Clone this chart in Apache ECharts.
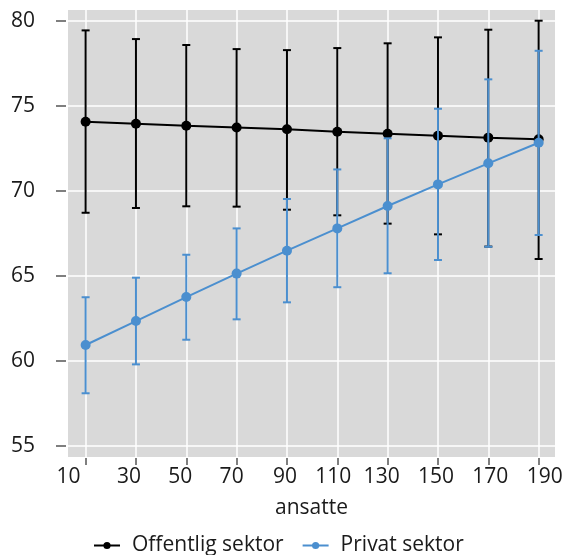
<!DOCTYPE html>
<html>
<head>
<meta charset="utf-8">
<script src="https://cdn.jsdelivr.net/npm/echarts@6/dist/echarts.min.js"></script>
<style>
  html, body { margin: 0; padding: 0; background: #fff; }
  #chart { width: 567px; height: 555px; }
</style>
</head>
<body>
<div id="chart"></div>
<script>
// Number of employees (x) and mean with interval per sector
const ansatte = [10, 30, 50, 70, 90, 110, 130, 150, 170, 190];

const offentligMean  = [74.08, 73.96, 73.84, 73.74, 73.63, 73.49, 73.37, 73.25, 73.14, 73.04];
const offentligLower = [68.72, 69.00, 69.10, 69.08, 68.90, 68.57, 68.08, 67.45, 66.73, 66.00];
const offentligUpper = [79.45, 78.94, 78.59, 78.35, 78.29, 78.41, 78.69, 79.04, 79.49, 80.02];

const privatMean  = [60.94, 62.35, 63.76, 65.14, 66.49, 67.80, 69.12, 70.39, 71.63, 72.84];
const privatLower = [58.10, 59.80, 61.25, 62.45, 63.45, 64.34, 65.16, 65.94, 66.72, 67.41];
const privatUpper = [63.75, 64.90, 66.25, 67.80, 69.53, 71.27, 73.10, 74.84, 76.57, 78.25];

const xTicks = [10, 30, 50, 70, 90, 110, 130, 150, 170, 190];
const yTicks = [55, 60, 65, 70, 75, 80];

// Horizontal nudge (px) of each x tick label relative to its tick
const xLabelNudge = [-17, -7, -6, -5, -2, -4, -6, -2, 2, 6];

const BLACK = '#000000';
const BLUE = '#4b8fcf';
const FONT = 'Open Sans';
const FONT_SIZE = 21;
const TEXT = '#1a1a1a';

function pairs(xs, ys) { return xs.map((x, i) => [x, ys[i]]); }
function bars(xs, lo, hi) { return xs.map((x, i) => [x, lo[i], hi[i]]); }

function errorBar(color) {
  return function (params, api) {
    const x = api.value(0);
    const top = api.coord([x, api.value(2)]);
    const bot = api.coord([x, api.value(1)]);
    const hw = 4;
    const style = { stroke: color, lineWidth: 2 };
    return {
      type: 'group',
      children: [
        { type: 'line', shape: { x1: top[0], y1: top[1], x2: bot[0], y2: bot[1] }, style },
        { type: 'line', shape: { x1: top[0] - hw, y1: top[1], x2: top[0] + hw, y2: top[1] }, style },
        { type: 'line', shape: { x1: bot[0] - hw, y1: bot[1], x2: bot[0] + hw, y2: bot[1] }, style }
      ]
    };
  };
}

// rich styles shifting each x label by padding one side of its box
const xRich = {};
xTicks.forEach((t, i) => {
  const n = xLabelNudge[i];
  xRich['t' + i] = {
    fontFamily: FONT, fontSize: FONT_SIZE, color: TEXT,
    padding: n < 0 ? [0, -2 * n, 0, 0] : [0, 0, 0, 2 * n]
  };
});

const chart = echarts.init(document.getElementById('chart'), null, { renderer: 'canvas' });
chart.setOption({
  animation: false,
  textStyle: { fontFamily: FONT },
  grid: {
    left: 68, right: 12, top: 10, bottom: 98,
    show: true, backgroundColor: '#d9d9d9', borderWidth: 0
  },
  xAxis: {
    type: 'value',
    min: 3, max: 196.5,
    offset: 1,
    name: 'ansatte',
    nameLocation: 'middle',
    nameGap: 40,
    nameTextStyle: { fontFamily: FONT, fontSize: FONT_SIZE, color: TEXT },
    axisLine: { show: false },
    axisTick: { show: true, length: 7, customValues: xTicks, lineStyle: { color: '#555', width: 1.5 } },
    axisLabel: {
      customValues: xTicks, margin: 9,
      fontFamily: FONT, fontSize: FONT_SIZE, color: TEXT,
      formatter: function (v) {
        const i = xTicks.indexOf(v);
        return i < 0 ? String(v) : '{t' + i + '|' + v + '}';
      },
      rich: xRich
    },
    splitLine: { show: true, lineStyle: { color: '#ffffff', width: 1.5 } }
  },
  yAxis: {
    type: 'value',
    min: 54.35, max: 80.65,
    offset: 2,
    axisLine: { show: false },
    axisTick: { show: true, length: 10, customValues: yTicks, lineStyle: { color: '#555', width: 1.5 } },
    axisLabel: { customValues: yTicks, margin: 31, fontFamily: FONT, fontSize: FONT_SIZE, color: TEXT },
    splitLine: { show: true, lineStyle: { color: '#ffffff', width: 1.5 } }
  },
  legend: {
    data: ['Offentlig sektor', 'Privat sektor'],
    left: 93, top: 535, padding: 0,
    itemWidth: 26, itemHeight: 9, itemGap: 18,
    textStyle: { fontFamily: FONT, fontSize: FONT_SIZE, color: TEXT, padding: [0, 0, 0, 7] }
  },
  series: [
    {
      name: 'offentlig-intervall', type: 'custom',
      renderItem: errorBar(BLACK),
      data: bars(ansatte, offentligLower, offentligUpper),
      z: 2
    },
    {
      name: 'Offentlig sektor', type: 'line',
      data: pairs(ansatte, offentligMean),
      symbol: 'circle', symbolSize: 10,
      itemStyle: { color: BLACK },
      lineStyle: { color: BLACK, width: 2 },
      z: 3
    },
    {
      name: 'privat-intervall', type: 'custom',
      renderItem: errorBar(BLUE),
      data: bars(ansatte, privatLower, privatUpper),
      z: 4
    },
    {
      name: 'Privat sektor', type: 'line',
      data: pairs(ansatte, privatMean),
      symbol: 'circle', symbolSize: 10,
      itemStyle: { color: BLUE },
      lineStyle: { color: BLUE, width: 2 },
      z: 5
    }
  ]
});
</script>
</body>
</html>
